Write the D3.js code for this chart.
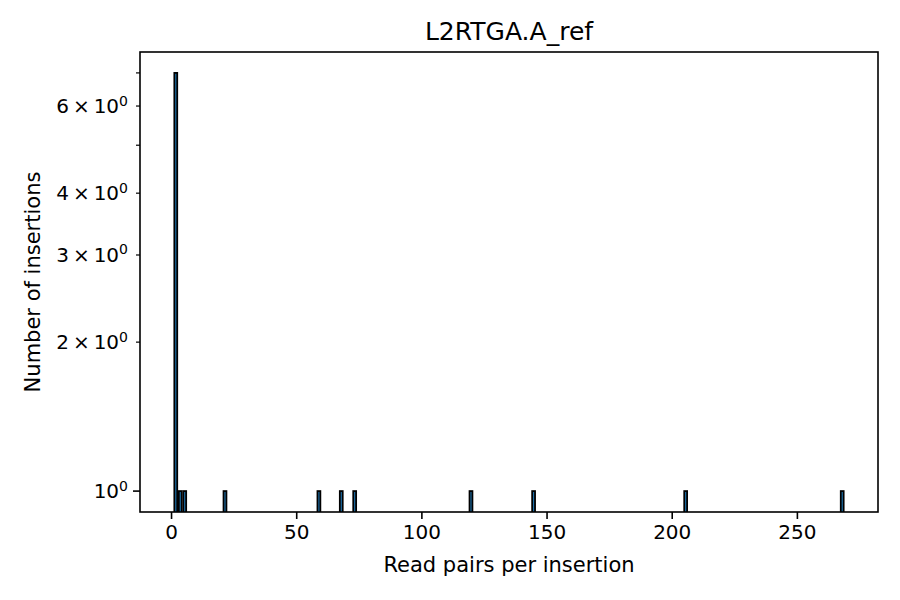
<!DOCTYPE html>
<html>

<head>
  <title>L2RTGA.A_ref</title>
  <style>
    body { margin: 0; background: #fff; }
    text { font-family: "DejaVu Sans", sans-serif; fill: #000; }
  </style>
</head>

<body>

  <svg id="main" width="900" height="600"></svg>

  <script src="https://cdn.jsdelivr.net/npm/d3@7"></script>
  <script>

    // read pairs counted for each insertion (one entry per insertion)
    const readPairs = [1, 1, 1, 1, 1, 1, 1, 3, 5, 21, 59, 68, 74, 119, 144, 206, 269]
    const binCount = 150
    const xTicks = [0, 50, 100, 150, 200, 250]
    const yMajorTicks = [1]
    const yMinorTicks = [2, 3, 4, 5, 6, 7]
    const yLabelledMinor = [2, 3, 4, 6]

    function getSvgInfo() {
      const svg = d3.select('#main')
      const width = +svg.attr('width')
      const height = +svg.attr('height')
      const margin = { top: 52, right: 22, bottom: 88, left: 140 }
      const innerWidth = width - margin.left - margin.right
      const innerHeight = height - margin.top - margin.bottom
      const config = {
        barColor: '#1f77b4',
        edgeColor: '#000',
        tickFont: '20px',
        labelFont: '21px',
        title: { text: 'L2RTGA.A_ref', fontSize: '25px' }
      }
      return { svg, width, height, margin, innerWidth, innerHeight, config }
    }

    const { svg, width, height, margin, innerWidth, innerHeight, config } = getSvgInfo()

    const chart = svg.append('g')
      .attr('transform', `translate(${margin.left},${margin.top})`)

    // matplotlib style 5% margins
    const [xmin, xmax] = d3.extent(readPairs)
    const xpad = (xmax - xmin) * 0.05
    const x = d3.scaleLinear()
      .domain([xmin - xpad, xmax + xpad])
      .range([0, innerWidth])

    const bins = d3.bin()
      .domain([xmin, xmax])
      .thresholds(d3.range(1, binCount).map(i => xmin + i * (xmax - xmin) / binCount))(readPairs)
      .filter(b => b.length > 0)

    const ymaxLog = Math.log10(d3.max(bins, b => b.length))
    const y = d3.scaleLog()
      .domain([Math.pow(10, -0.05 * ymaxLog), Math.pow(10, 1.05 * ymaxLog)])
      .range([innerHeight, 0])

    chart.append('clipPath').attr('id', 'clip')
      .append('rect').attr('width', innerWidth).attr('height', innerHeight)

    chart.append('g')
      .attr('clip-path', 'url(#clip)')
      .selectAll('rect')
      .data(bins)
      .join('rect')
      .attr('x', d => x(d.x0) + 0.8)
      .attr('width', d => Math.max(0.5, x(d.x1) - x(d.x0) - 1.6))
      .attr('y', d => y(d.length))
      .attr('height', d => innerHeight + 5 - y(d.length))
      .attr('fill', config.barColor)
      .attr('stroke', config.edgeColor)
      .attr('stroke-width', 1.8)

    // x axis
    const xAxis = chart.append('g')
      .attr('transform', `translate(0,${innerHeight})`)
      .call(d3.axisBottom(x).tickValues(xTicks).tickSize(7).tickPadding(6))
    xAxis.select('.domain').remove()
    xAxis.selectAll('line').attr('stroke', '#000').attr('stroke-width', 1.6)
    xAxis.selectAll('text').attr('font-size', config.tickFont).attr('font-family', 'DejaVu Sans')

    // y axis, major and minor log ticks
    const yAxis = chart.append('g')
    yAxis.selectAll('.major')
      .data(yMajorTicks)
      .join('line')
      .attr('x1', -7).attr('x2', 0)
      .attr('y1', d => y(d)).attr('y2', d => y(d))
      .attr('stroke', '#000').attr('stroke-width', 1.6)
    yAxis.selectAll('.minor')
      .data(yMinorTicks)
      .join('line')
      .attr('x1', -4).attr('x2', 0)
      .attr('y1', d => y(d)).attr('y2', d => y(d))
      .attr('stroke', '#000').attr('stroke-width', 1.2)

    const yLabels = yAxis.selectAll('text')
      .data(yMajorTicks.concat(yLabelledMinor))
      .join('text')
      .attr('x', -12)
      .attr('y', d => y(d))
      .attr('dy', '0.36em')
      .attr('text-anchor', 'end')
      .attr('font-size', config.tickFont)
    yLabels.append('tspan').text(d => d === 1 ? '10' : `${d}\u2009×\u200910`)
    yLabels.append('tspan')
      .attr('font-size', '14px')
      .attr('dy', '-0.55em')
      .text('0')

    // frame
    chart.append('rect')
      .attr('width', innerWidth)
      .attr('height', innerHeight)
      .attr('fill', 'none')
      .attr('stroke', '#000')
      .attr('stroke-width', 1.6)

    // axis titles
    chart.append('text')
      .text('Read pairs per insertion')
      .attr('x', innerWidth / 2)
      .attr('y', innerHeight + 60)
      .attr('text-anchor', 'middle')
      .attr('font-size', config.labelFont)

    chart.append('text')
      .text('Number of insertions')
      .attr('transform', `translate(${-100},${innerHeight / 2}) rotate(-90)`)
      .attr('text-anchor', 'middle')
      .attr('font-size', config.labelFont)

    setChartTitle(chart)

    function setChartTitle(chart) {
      chart.append('text').text(config.title.text)
        .attr('font-size', config.title.fontSize)
        .attr('transform', `translate(${innerWidth / 2}, ${-12})`)
        .attr('text-anchor', 'middle')
    }

  </script>
</body>

</html>
